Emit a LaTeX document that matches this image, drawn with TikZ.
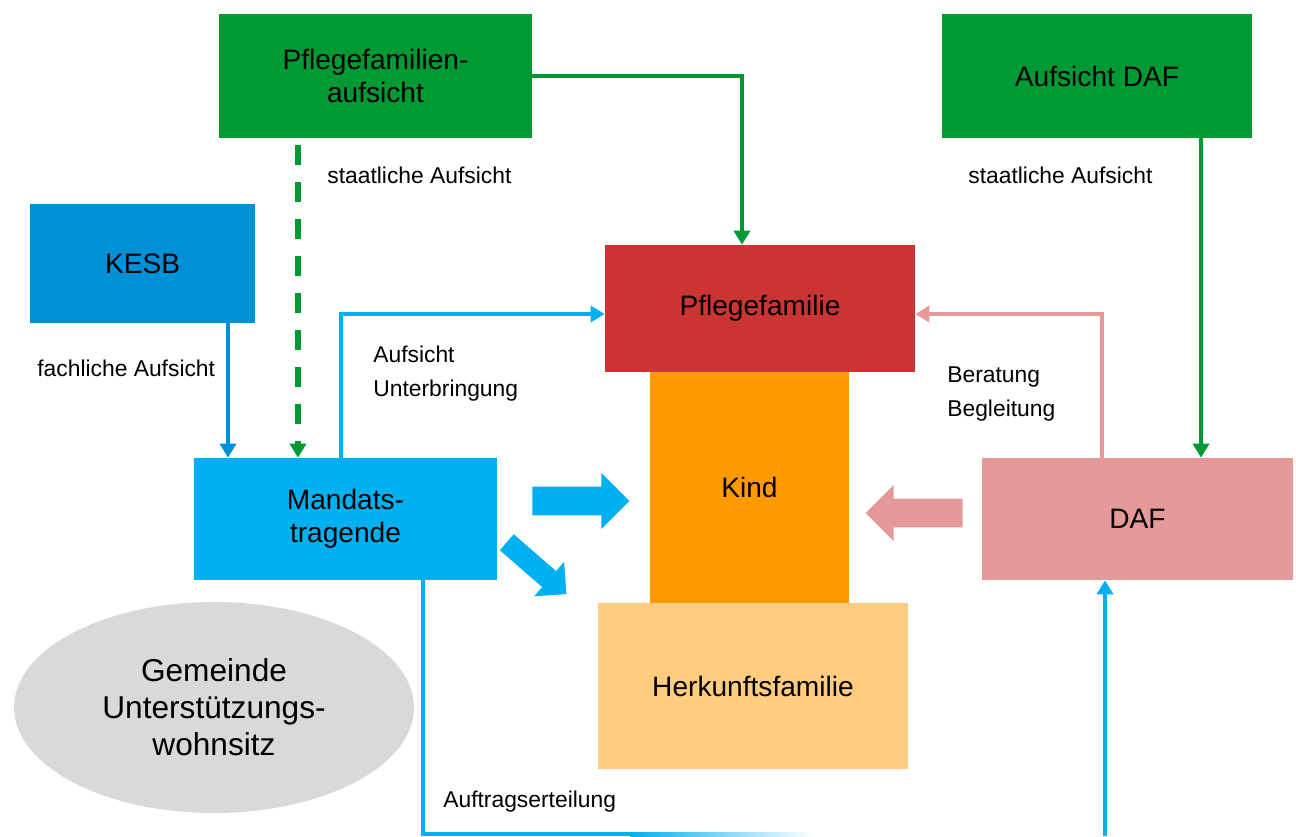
\documentclass[tikz,border=0pt]{standalone}
\usepackage{fontspec}
\setmainfont{Liberation Sans}
\usepackage{tikz}
\usetikzlibrary{arrows.meta,shapes.geometric,shapes.arrows}

\definecolor{pfagreen}{RGB}{0,153,51}
\definecolor{kesbblue}{RGB}{0,144,216}
\definecolor{mtblue}{RGB}{0,176,240}
\definecolor{pfred}{RGB}{204,51,51}
\definecolor{kindorange}{RGB}{255,153,0}
\definecolor{hforange}{RGB}{255,204,128}
\definecolor{dafpink}{RGB}{230,153,153}
\definecolor{gemgray}{RGB}{217,217,217}

\newcommand{\boxfont}{\fontsize{16}{18.7}\selectfont}
\newcommand{\gemfont}{\fontsize{18}{21}\selectfont}
\newcommand{\notefont}{\fontsize{13}{19.3}\selectfont}

\begin{document}
\begin{tikzpicture}[x=0.02cm,y=-0.02cm,
  box node/.style={rectangle,inner sep=0pt,align=center,font=\boxfont},
  note/.style={anchor=west,align=left,inner sep=0pt,font=\notefont},
  link/.style={line width=0.08cm,-{Triangle[width=0.32cm,length=0.28cm]}},
  block arrow/.style={single arrow,anchor=tail,inner xsep=0pt,inner ysep=0.28cm,
    minimum height=1.94cm,single arrow head extend=0.27cm}]
  \useasboundingbox (0,0) rectangle (1296,836);

  % boxes
  \node[box node,fill=pfagreen,minimum width=6.26cm,minimum height=2.48cm] (pfa) at (375.5,76) {Pflegefamilien-\\aufsicht};
  \node[box node,fill=pfagreen,minimum width=6.2cm,minimum height=2.48cm] (adaf) at (1097,76) {Aufsicht DAF};
  \node[box node,fill=kesbblue,minimum width=4.5cm,minimum height=2.38cm] (kesb) at (142.5,263.5) {KESB};
  \node[box node,fill=kindorange,minimum width=3.98cm,minimum height=4.62cm] (kind) at (749.5,487.5) {Kind};
  \node[box node,fill=pfred,minimum width=6.2cm,minimum height=2.54cm] (pf) at (760,308.5) {Pflegefamilie};
  \node[box node,fill=hforange,minimum width=6.22cm,minimum height=3.32cm] (hf) at (753,686) {Herkunftsfamilie};
  \node[box node,fill=mtblue,minimum width=6.06cm,minimum height=2.44cm] (mt) at (345.5,519) {Mandats-\\tragende};
  \node[box node,fill=dafpink,minimum width=6.22cm,minimum height=2.44cm] (daf) at (1137.5,519) {DAF};
  \node[ellipse,inner sep=0pt,align=center,font=\gemfont,fill=gemgray,
    minimum width=8cm,minimum height=4.22cm] (gem) at (214,707.5) {Gemeinde\\Unterstützungs-\\wohnsitz};

  % block arrows
  \node[block arrow,fill=mtblue] (ra) at (532,501) {};
  \node[block arrow,fill=mtblue,inner ysep=0.205cm,minimum height=1.58cm,
    single arrow head extend=0.245cm,rotate=-41] (da) at (506.5,542) {};
  \node[block arrow,fill=dafpink,rotate=180] (la) at (963,513) {};

  % connectors
  \coordinate (kesbT) at ([xshift=-2.35cm]mt.north);
  \coordinate (pfaT) at ([xshift=-0.95cm]mt.north);
  \coordinate (adafT) at ([xshift=1.27cm]daf.north);
  \draw[link,pfagreen] (pfa.east) -| ([xshift=-0.36cm]pf.north);
  \draw[link,pfagreen,line width=0.11cm,dash pattern=on 0.4cm off 0.34cm,
    shorten <=0.14cm] (pfa.south -| pfaT) -- (pfaT);
  \draw[link,kesbblue] (kesb.south -| kesbT) -- (kesbT);
  \draw[link,pfagreen] (adaf.south -| adafT) -- (adafT);
  \draw[link,mtblue] ([xshift=-0.09cm]mt.north) |- ([yshift=-0.11cm]pf.west);
  \draw[link,dafpink] ([xshift=-0.71cm]daf.north) |- ([yshift=-0.11cm]pf.east);

  \coordinate (auf) at (630,834);
  \draw[line width=0.08cm,mtblue] ([xshift=1.55cm]mt.south) |- (auf);
  \shade[left color=mtblue,right color=white] (630,832) rectangle (814,836);
  \coordinate (up) at (1105,836);
  \draw[link,mtblue] (up) -- (up |- daf.south);

  % labels
  \node[note] (l1) at (327,175) {staatliche Aufsicht};
  \node[note] (l2) at (968,175) {staatliche Aufsicht};
  \node[note] (l3) at (37,368) {fachliche Aufsicht};
  \node[note] (l4) at (373,374) {Aufsicht\\Unterbringung};
  \node[note] (l5) at (947,394) {Beratung\\Begleitung};
  \node[note] (l6) at (443,802) {Auftragserteilung};
\end{tikzpicture}
\end{document}
